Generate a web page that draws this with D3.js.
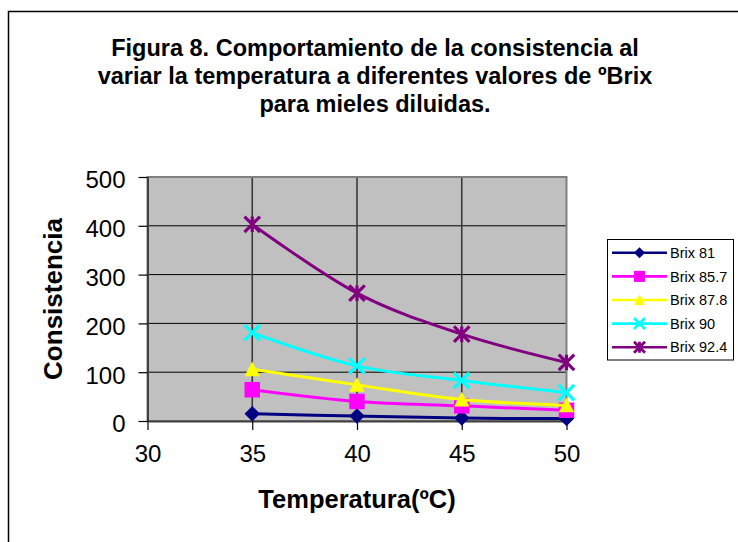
<!DOCTYPE html>
<html>
<head>
<meta charset="utf-8">
<script src="https://cdn.jsdelivr.net/npm/d3@7"></script>
<style>
  html, body { margin: 0; padding: 0; background: #fff; }
  svg { display: block; }
  text { font-family: Arial, "Liberation Sans", sans-serif; }
</style>
</head>
<body>
<svg id="chart" width="738" height="542"></svg>
<script>
// ---- data ----
const temperatures = [35, 40, 45, 50];
const seriesNames = ["Brix 81", "Brix 85.7", "Brix 87.8", "Brix 90", "Brix 92.4"];
const brix81   = [15, 10, 6, 5];
const brix857  = [64, 40, 31, 22];
const brix878  = [106, 74, 44, 32];
const brix90   = [181, 113, 83, 58];
const brix924  = [403, 262, 178, 120];
const xTicks = [30, 35, 40, 45, 50];
const yTicks = [0, 100, 200, 300, 400, 500];
const titleLines = [
  "Figura 8. Comportamiento de la consistencia al",
  "variar la temperatura a diferentes valores de ºBrix",
  "para mieles diluidas."
];
const xTitle = "Temperatura(ºC)";
const yTitle = "Consistencia";

const seriesValues = [brix81, brix857, brix878, brix90, brix924];
const colors = ["#000080", "#ff00ff", "#ffff00", "#00ffff", "#800080"];
const markers = ["diamond", "square", "triangle", "x", "star"];

const svg = d3.select("#chart");

// outer frame (right/bottom edges fall outside the picture)
svg.append("rect").attr("x", 8.5).attr("y", 11.5).attr("width", 740).attr("height", 540)
  .attr("fill", "#fff").attr("stroke", "#000").attr("stroke-width", 1.5);

// title
const title = svg.append("text").attr("text-anchor", "middle")
  .attr("font-weight", "bold").attr("font-size", 23.5).attr("fill", "#000");
titleLines.forEach((t, i) => {
  title.append("tspan").attr("x", 375).attr("y", 56 + i * 27.8).text(t);
});

// scales
const x = d3.scaleLinear().domain([30, 50]).range([147.5, 566.5]);
const y = d3.scaleLinear().domain([0, 500]).range([421, 177]);

// plot area
svg.append("rect").attr("x", x(30)).attr("y", y(500))
  .attr("width", x(50) - x(30)).attr("height", y(0) - y(500))
  .attr("fill", "#c0c0c0");

// gridlines
svg.append("g").selectAll("line").data(yTicks.filter(d => d > 0 && d < 500)).join("line")
  .attr("x1", x(30)).attr("x2", x(50)).attr("y1", d => y(d)).attr("y2", d => y(d))
  .attr("stroke", "#000").attr("stroke-width", 1);
svg.append("g").selectAll("line").data(xTicks.filter(d => d > 30 && d < 50)).join("line")
  .attr("x1", d => x(d)).attr("x2", d => x(d)).attr("y1", y(0)).attr("y2", y(500))
  .attr("stroke", "#3a3a3a").attr("stroke-width", 1.6);

// plot border
svg.append("rect").attr("x", x(30)).attr("y", y(500))
  .attr("width", x(50) - x(30)).attr("height", y(0) - y(500))
  .attr("fill", "none").attr("stroke", "#808080").attr("stroke-width", 2);

// axes
const yAxis = d3.axisLeft(y).tickValues(yTicks).tickSize(9).tickPadding(13).tickSizeOuter(0);
const gy = svg.append("g").attr("transform", `translate(${x(30)},0)`).call(yAxis);
gy.select(".domain").attr("stroke", "#404040").attr("stroke-width", 2);
gy.selectAll(".tick line").attr("stroke", "#000").attr("stroke-width", 1.2);
gy.selectAll(".tick text").attr("font-size", 24).attr("fill", "#000")
  .attr("font-family", "Arial, 'Liberation Sans', sans-serif").attr("dy", "0.45em");

const xAxis = d3.axisBottom(x).tickValues(xTicks).tickSize(9).tickPadding(15).tickSizeOuter(0);
const gx = svg.append("g").attr("transform", `translate(0,${y(0)})`).call(xAxis);
gx.select(".domain").attr("stroke", "#404040").attr("stroke-width", 2);
gx.selectAll(".tick line").attr("stroke", "#000").attr("stroke-width", 1.2);
gx.selectAll(".tick text").attr("font-size", 24).attr("fill", "#000")
  .attr("font-family", "Arial, 'Liberation Sans', sans-serif");

// axis titles
svg.append("text").attr("x", (x(30) + x(50)) / 2).attr("y", 508)
  .attr("text-anchor", "middle").attr("font-weight", "bold").attr("font-size", 25.5)
  .text(xTitle);
svg.append("text").attr("transform", `translate(62,${(y(0) + y(500)) / 2}) rotate(-90)`)
  .attr("text-anchor", "middle").attr("font-weight", "bold").attr("font-size", 26)
  .text(yTitle);

// marker paths
function markerPath(type, s) {
  const h = s / 2;
  switch (type) {
    case "diamond": return `M0,${-h}L${h},0L0,${h}L${-h},0Z`;
    case "square": return `M${-h},${-h}H${h}V${h}H${-h}Z`;
    case "triangle": return `M0,${-h}L${h},${h * 0.9}L${-h},${h * 0.9}Z`;
    case "x": return `M${-h},${-h}L${h},${h}M${h},${-h}L${-h},${h}`;
    case "star": return `M${-h},${-h}L${h},${h}M${h},${-h}L${-h},${h}M0,${-h}L0,${h}`;
  }
}
function drawMarker(g, type, color, cx, cy, s, sw) {
  const p = g.append("path").attr("transform", `translate(${cx},${cy})`).attr("d", markerPath(type, s));
  if (type === "x" || type === "star") {
    p.attr("fill", "none").attr("stroke", color).attr("stroke-width", sw);
  } else {
    p.attr("fill", color).attr("stroke", "none");
  }
}

// series
const line = d3.line().x((d, i) => x(temperatures[i])).y(d => y(d)).curve(d3.curveCardinal.tension(0));
const plotG = svg.append("g");
seriesValues.forEach((vals, k) => {
  const g = plotG.append("g");
  g.append("path").attr("d", line(vals)).attr("fill", "none")
    .attr("stroke", colors[k]).attr("stroke-width", 3);
  vals.forEach((v, i) => drawMarker(g, markers[k], colors[k], x(temperatures[i]), y(v), 15.5, 3.2));
});

// legend
const lg = svg.append("g");
lg.append("rect").attr("x", 607.5).attr("y", 239.5).attr("width", 126).attr("height", 120.5)
  .attr("fill", "#fff").attr("stroke", "#000").attr("stroke-width", 1);
seriesNames.forEach((name, k) => {
  const cy = 252.8 + k * 23.6;
  lg.append("line").attr("x1", 612).attr("x2", 667).attr("y1", cy).attr("y2", cy)
    .attr("stroke", colors[k]).attr("stroke-width", 2.6);
  drawMarker(lg, markers[k], colors[k], 639.5, cy, 11, 2.8);
  lg.append("text").attr("x", 670).attr("y", cy).attr("dy", "0.36em")
    .attr("font-size", 14.5).attr("fill", "#000").text(name);
});
</script>
</body>
</html>
